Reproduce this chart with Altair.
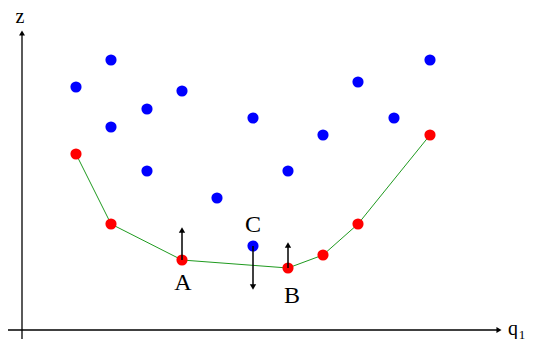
import altair as alt
import pandas as pd

# Data in chart units (q1 horizontal, z vertical)
blue_q = [76, 111, 111, 147, 147, 182, 217, 253, 253, 288, 323, 358, 394, 430]
blue_z = [260, 287, 220, 238, 176, 256, 149, 229, 101, 176, 212, 265, 229, 287]

red_q = [76, 111, 182, 288, 323, 358, 430]
red_z = [193, 123, 87, 79, 92, 123, 212]

# arrows: x, start z, end z
arrow_q = [182, 288, 253]
arrow_z0 = [87, 79, 101]
arrow_z1 = [117, 102, 60]
arrow_dir = ["triangle-up", "triangle-up", "triangle-down"]

label_text = ["A", "B", "C"]
label_q = [183, 292, 253]
label_z = [64, 51, 122]

Q_DOMAIN = [8, 529]
Z_DOMAIN = [8, 339]

xs = alt.Scale(domain=Q_DOMAIN, nice=False, zero=False)
ys = alt.Scale(domain=Z_DOMAIN, nice=False, zero=False)

def X(f="q"):
    return alt.X(f"{f}:Q", scale=xs, axis=None)

def Y(f="z"):
    return alt.Y(f"{f}:Q", scale=ys, axis=None)

blue = pd.DataFrame({"q": blue_q, "z": blue_z})
red = pd.DataFrame({"q": red_q, "z": red_z, "o": list(range(len(red_q)))})
arrows = pd.DataFrame({"q": arrow_q, "z0": arrow_z0, "z1": arrow_z1, "shape": arrow_dir})
labels = pd.DataFrame({"q": label_q, "z": label_z, "t": label_text})

# coordinate axes
axes_lines = pd.DataFrame({
    "q": [22, 5], "q2": [22, 497], "z": [2, 17], "z2": [314, 17]
})
axes_heads = pd.DataFrame({"q": [22, 499], "z": [314, 17], "shape": ["triangle-up", "triangle-right"]})

axis_rules = alt.Chart(axes_lines).mark_rule(color="black", strokeWidth=1.3).encode(
    x=X(), x2="q2:Q", y=Y(), y2="z2:Q")
axis_heads = alt.Chart(axes_heads).mark_point(filled=True, color="black", opacity=1, size=35).encode(
    x=X(), y=Y(), shape=alt.Shape("shape:N", scale=None))

line = alt.Chart(red).mark_line(color="#1f9a1f", strokeWidth=1).encode(
    x=X(), y=Y(), order="o:Q")
blue_pts = alt.Chart(blue).mark_circle(color="#0000ff", opacity=1, size=125).encode(x=X(), y=Y())
red_pts = alt.Chart(red).mark_circle(color="#ff0000", opacity=1, size=125).encode(x=X(), y=Y())

arrow_shafts = alt.Chart(arrows).mark_rule(color="black", strokeWidth=1.5).encode(
    x=X(), y=Y("z0"), y2="z1:Q")
arrow_heads = alt.Chart(arrows).mark_point(filled=True, color="black", opacity=1, size=40).encode(
    x=X(), y=Y("z1"), shape=alt.Shape("shape:N", scale=None))

label_marks = alt.Chart(labels).mark_text(font="Liberation Serif", fontSize=24, color="black").encode(
    x=X(), y=Y(), text="t:N")

axis_text = pd.DataFrame({"q": [20, 513], "z": [330, 18], "t": ["z", "q"]})
axis_sub = pd.DataFrame({"q": [522], "z": [12], "t": ["1"]})
axis_labels = alt.Chart(axis_text).mark_text(font="Liberation Serif", fontSize=20, color="black").encode(
    x=X(), y=Y(), text="t:N")
axis_sublabels = alt.Chart(axis_sub).mark_text(font="Liberation Serif", fontSize=13, color="black").encode(
    x=X(), y=Y(), text="t:N")

chart = alt.layer(
    axis_rules, axis_heads, line, blue_pts, red_pts, arrow_shafts, arrow_heads,
    label_marks, axis_labels, axis_sublabels
).properties(
    width=521, height=331, padding=0, autosize="none"
).configure_view(stroke=None)

chart.save("out.html", embed_options={"renderer": "svg", "actions": False})
